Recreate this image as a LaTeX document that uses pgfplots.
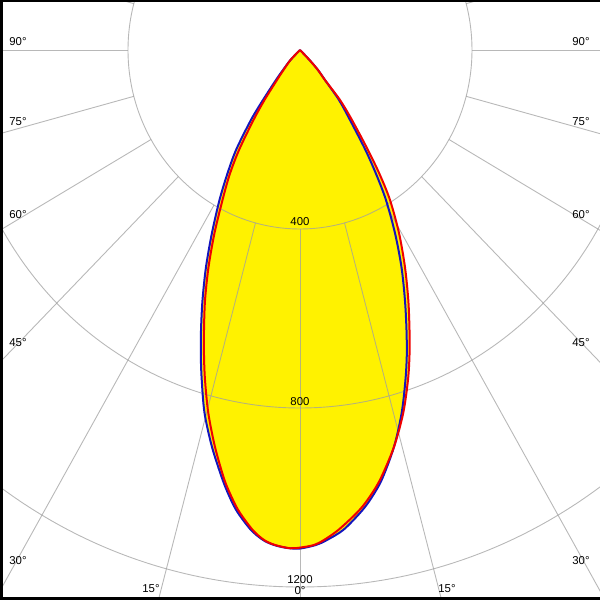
\documentclass[border=0pt]{standalone}
\usepackage{pgfplots}
\usepackage{pgfplotstable}
\pgfplotsset{compat=1.18}
\usepackage{fontspec}
\setmainfont{Liberation Sans}
\definecolor{cblue}{RGB}{20,20,190}
\definecolor{cred}{RGB}{240,0,0}
\definecolor{cgrid}{RGB}{160,160,160}
\tikzset{lbl/.style={font=\fontsize{5.7}{6}\selectfont, inner sep=0pt}}

\pgfplotstableread{
g r
-46.5 0
-44.7 31.4
-41.5 59.7
-39.8 87.2
-37.6 141.0
-36.1 193.5
-33.65 268.5
-31.3 326.9
-29.18 383.9
-26.6 457.3
-24.27 531.9
-22.09 602.9
-20.2 666.7
-18.7 719.6
-17.22 772.0
-15.31 841.0
-12.99 910.5
-10.6 977.6
-9.07 1018.3
-7.93 1044.6
-6.07 1078.6
-4.49 1098.4
-3.13 1107.8
-1.56 1113.2
0 1114
1.93 1106.7
3.28 1096.8
5.36 1077.3
7.68 1044.0
9.2 1018.7
11.18 979.5
13.84 913.7
16.25 845.0
18.4 777.1
20.02 725.5
21.6 672.9
23.6 609.7
25.95 539.3
28.38 464.8
30.82 390.3
32.5 331.2
34.27 270.4
36.63 194.9
39.08 143.9
40.9 88.7
43.1 61.2
44.7 31.4
46.5 0
}\bluedata

\pgfplotstableread{
g r
-46.5 0
-44.7 31.4
-40.65 58.9
-38.59 85.8
-36.47 138.9
-34.66 190.2
-32.4 264.7
-30.41 323.9
-28.26 380.6
-25.93 454.7
-23.69 529.5
-21.57 600.8
-19.64 664.3
-18.14 717.2
-16.68 769.8
-14.73 838.8
-12.56 909.0
-10.36 976.8
-8.81 1017.6
-7.68 1044.0
-5.86 1078.2
-4.37 1098.2
-3.01 1107.6
-1.2 1113.7
0 1112
1.69 1106.6
2.92 1096.4
4.75 1076.3
7.26 1043.0
8.87 1017.8
10.95 978.7
13.84 913.7
16.49 846.0
18.81 779.0
20.49 727.6
22.15 675.5
24.27 612.8
26.72 542.9
29.38 469.3
31.98 395.2
33.66 335.6
35.27 273.8
37.7 197.4
39.78 145.4
40.9 88.7
43.1 61.2
44.7 31.4
46.5 0
}\reddata

\begin{document}
\begin{tikzpicture}
\begin{axis}[
  width=300pt, height=300pt, scale only axis,
  xmin=-697.7, xmax=697.7, ymin=-1229, ymax=111.7,
  axis line style={draw=none}, xtick=\empty, ytick=\empty,
  clip=true,
]
% fills
\addplot[data cs=polar, fill=yellow, draw=none, smooth, tension=0.5] table[x expr=\thisrow{g}-90, y=r] {\bluedata} -- cycle;
\addplot[data cs=polar, fill=yellow, draw=none, smooth, tension=0.5] table[x expr=\thisrow{g}-90, y=r] {\reddata} -- cycle;
% grid
\draw[cgrid, opacity=0.75, line width=0.45pt] (axis cs:0,0) ellipse [x radius=400, y radius=400];
\draw[cgrid, opacity=0.75, line width=0.45pt] (axis cs:0,0) ellipse [x radius=800, y radius=800];
\draw[cgrid, opacity=0.75, line width=0.45pt] (axis cs:0,0) ellipse [x radius=1200, y radius=1200];
\pgfplotsinvokeforeach{0,15,...,345}{
  \draw[cgrid, opacity=0.75, line width=0.45pt] (axis cs:{400*sin(#1)},{-400*cos(#1)}) -- (axis cs:{2400*sin(#1)},{-2400*cos(#1)});
}
% curves
\addplot[data cs=polar, draw=cblue, line width=1pt, smooth, tension=0.5] table[x expr=\thisrow{g}-90, y=r] {\bluedata};
\addplot[data cs=polar, draw=cred, line width=1pt, smooth, tension=0.5] table[x expr=\thisrow{g}-90, y=r] {\reddata};
% labels
\node[lbl] at (axis cs:-655.8,17.9) {90°};
\node[lbl] at (axis cs:-655.8,-160.9) {75°};
\node[lbl] at (axis cs:-655.8,-368.7) {60°};
\node[lbl] at (axis cs:-655.8,-654.7) {45°};
\node[lbl] at (axis cs:-655.8,-1141.9) {30°};
\node[lbl] at (axis cs:-346.5,-1204.5) {15°};
\node[lbl] at (axis cs:0,-1209) {0°};
\node[lbl] at (axis cs:341.9,-1204.5) {15°};
\node[lbl] at (axis cs:653.5,-1141.9) {30°};
\node[lbl] at (axis cs:653.5,-654.7) {45°};
\node[lbl] at (axis cs:653.5,-368.7) {60°};
\node[lbl] at (axis cs:653.5,-160.9) {75°};
\node[lbl] at (axis cs:653.5,17.9) {90°};
\node[lbl] at (axis cs:0,-384.4) {400};
\node[lbl] at (axis cs:0,-786.6) {800};
\node[lbl] at (axis cs:0,-1183) {1200};
% frame
\fill[black] (rel axis cs:0,0) rectangle (rel axis cs:0.005,1);
\fill[black] (rel axis cs:0,0.9967) rectangle (rel axis cs:1,1);
\fill[black] (rel axis cs:0,0) rectangle (rel axis cs:1,0.005);
\end{axis}
\end{tikzpicture}
\end{document}
